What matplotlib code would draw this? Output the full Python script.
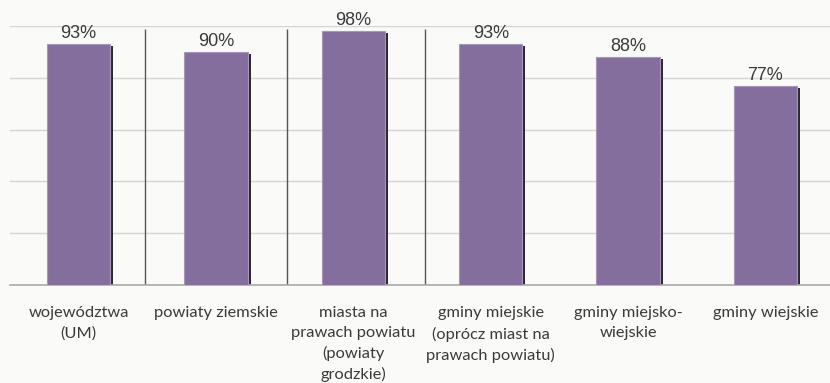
import numpy as np
import matplotlib.pyplot as plt

categories = ['województwa\n(UM)', 'powiaty ziemskie', 'miasta na\nprawach powiatu\n(powiaty\ngrodzkie)',
              'gminy miejskie\n(oprócz miast na\nprawach powiatu)', 'gminy miejsko-\nwiejskie', 'gminy wiejskie']
values = [93, 90, 98, 93, 88, 77]

bg = '#fafaf9'
bar_color = '#846e9e'
edge_color = '#a796ba'
shadow_color = '#2a2a2a'

fig = plt.figure(figsize=(8.3, 3.83), dpi=100, facecolor=bg)
ax = fig.add_axes([0.012, 0.256, 0.988, 0.676], facecolor=bg)

x = np.arange(len(values))
w = 0.46
# thin dark "shadow" on the right of every bar
ax.bar(x + 0.022, np.array(values) - 0.8, width=w, color=shadow_color, zorder=2)
ax.bar(x, values, width=w, color=bar_color, edgecolor=edge_color, linewidth=0.8, zorder=3)

for xi, v in zip(x, values):
    ax.annotate(f'{v}%', (xi, v), xytext=(0, 1.5), textcoords='offset points',
                ha='center', va='bottom', fontsize=13, color='#3a3a3a',
                family='Liberation Sans', annotation_clip=False)

# separators between the first groups
ax.vlines([0.48, 1.52, 2.52], 0, 99, colors='#555555', linewidth=1.0, zorder=1)

ax.set_xlim(-0.5, 5.47)
ax.set_ylim(0, 100)
ax.set_yticks([0, 20, 40, 60, 80, 100])
ax.yaxis.grid(True, color='#d4d4d4', linewidth=1.0)
ax.set_axisbelow(True)
ax.tick_params(left=False, labelleft=False, bottom=False, pad=12)
ax.set_xticks(x)
ax.set_xticklabels(categories, fontsize=11.8, color='#3a3a3a', family='Lato',
                   linespacing=1.5, va='top')

for s in ['top', 'right', 'left']:
    ax.spines[s].set_visible(False)
ax.spines['bottom'].set_color('#aaaaaa')
ax.spines['bottom'].set_linewidth(1.2)

fig.savefig('out.png', dpi=100, facecolor=bg)
